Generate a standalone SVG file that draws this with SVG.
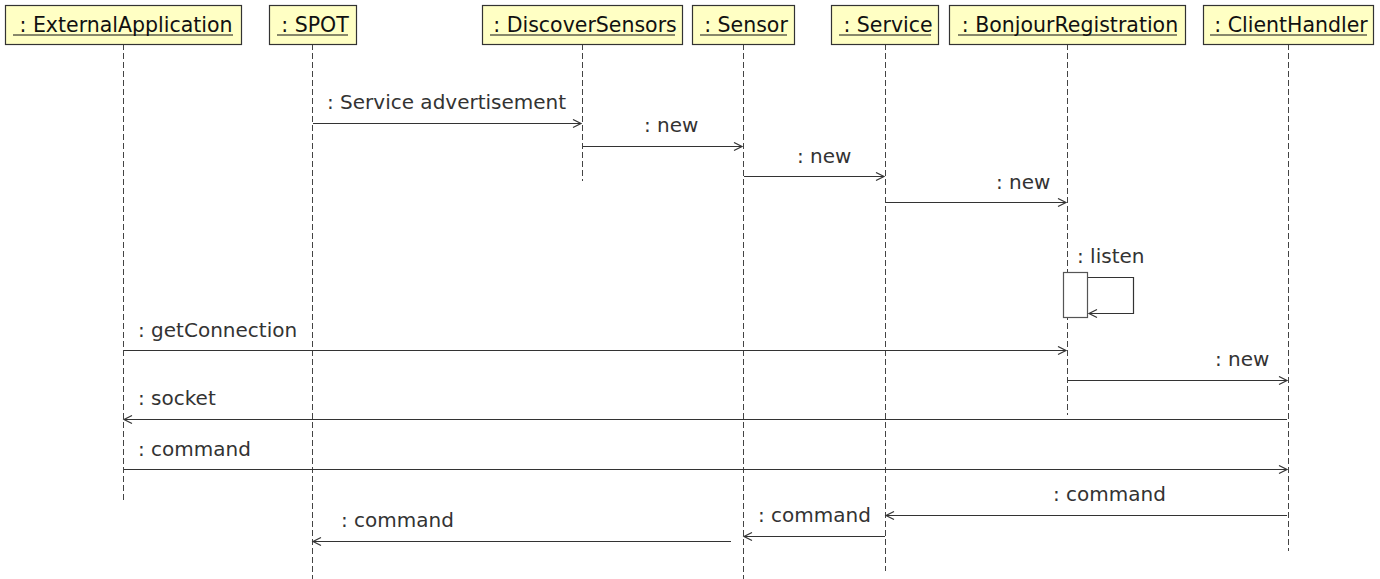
<svg xmlns="http://www.w3.org/2000/svg" width="1380" height="579" viewBox="0 0 1380 579">
<style>
.box{fill:#ffffc4;stroke:#333;stroke-width:1.2}
.hd{font-family:"DejaVu Sans",sans-serif;font-size:20.5px;fill:#111;text-anchor:middle}
.ul{stroke:#111;stroke-width:1}
.life{stroke:#444;stroke-width:1;stroke-dasharray:6,3;fill:none}
.msg{stroke:#333;stroke-width:1.2;fill:none;marker-end:url(#ah)}
.lbl{font-family:"DejaVu Sans",sans-serif;font-size:20px;fill:#333}
.act{fill:#fff;stroke:#555;stroke-width:1.2}
</style>
<defs>
<marker id="ah" markerUnits="userSpaceOnUse" markerWidth="12" markerHeight="12" refX="9" refY="5" orient="auto">
<path d="M1,1 L9,5 L1,9" fill="none" stroke="#333" stroke-width="1.2"/>
</marker>
</defs>
<rect width="1380" height="579" fill="#fff"/>
<g id="lifelines">
<line class="life" x1="123.5" y1="44" x2="123.5" y2="502"/>
<line class="life" x1="312.5" y1="44" x2="312.5" y2="579"/>
<line class="life" x1="582.5" y1="44" x2="582.5" y2="181"/>
<line class="life" x1="743.5" y1="44" x2="743.5" y2="579"/>
<line class="life" x1="885.5" y1="44" x2="885.5" y2="571"/>
<line class="life" x1="1067.5" y1="44" x2="1067.5" y2="415"/>
<line class="life" x1="1288.5" y1="44" x2="1288.5" y2="551"/>
</g>
<g id="n_ext">
<rect class="box" x="5.5" y="5.5" width="236" height="39"/>
<text class="hd" x="126" y="32">: ExternalApplication</text>
<line class="ul" x1="13" y1="35" x2="233" y2="35"/>
</g>
<g id="n_spot">
<rect class="box" x="269.5" y="5.5" width="87" height="39"/>
<text class="hd" x="315" y="32">: SPOT</text>
<line class="ul" x1="277" y1="35" x2="348" y2="35"/>
</g>
<g id="n_disc">
<rect class="box" x="482.5" y="5.5" width="200" height="39"/>
<text class="hd" x="585" y="32">: DiscoverSensors</text>
<line class="ul" x1="490" y1="35" x2="675" y2="35"/>
</g>
<g id="n_sensor">
<rect class="box" x="692.5" y="5.5" width="102" height="39"/>
<text class="hd" x="746" y="32">: Sensor</text>
<line class="ul" x1="700" y1="35" x2="787" y2="35"/>
</g>
<g id="n_service">
<rect class="box" x="831.5" y="5.5" width="107" height="39"/>
<text class="hd" x="888" y="32">: Service</text>
<line class="ul" x1="839" y1="35" x2="931" y2="35"/>
</g>
<g id="n_bonjour">
<rect class="box" x="949.5" y="5.5" width="236" height="39"/>
<text class="hd" x="1070" y="32">: BonjourRegistration</text>
<line class="ul" x1="958" y1="35" x2="1177" y2="35"/>
</g>
<g id="n_client">
<rect class="box" x="1203.5" y="5.5" width="170" height="39"/>
<text class="hd" x="1291" y="32">: ClientHandler</text>
<line class="ul" x1="1210" y1="35" x2="1367" y2="35"/>
</g>
<g id="n_act">
<rect class="act" x="1063.5" y="272.5" width="24" height="45"/>
</g>
<g id="connectors">
<line class="msg" x1="313" y1="123.5" x2="581" y2="123.5"/>
<line class="msg" x1="583" y1="146.5" x2="742" y2="146.5"/>
<line class="msg" x1="744" y1="176.5" x2="884" y2="176.5"/>
<line class="msg" x1="886" y1="202.5" x2="1066" y2="202.5"/>
<path class="msg" d="M1088,277.5 H1133.5 V313.5 H1089"/>
<line class="msg" x1="124" y1="350.5" x2="1066" y2="350.5"/>
<line class="msg" x1="1068" y1="380.5" x2="1287" y2="380.5"/>
<line class="msg" x1="1287" y1="419.5" x2="124" y2="419.5"/>
<line class="msg" x1="124" y1="469.5" x2="1287" y2="469.5"/>
<line class="msg" x1="1287" y1="515.5" x2="886" y2="515.5"/>
<line class="msg" x1="885" y1="536.5" x2="744" y2="536.5"/>
<line class="msg" x1="731" y1="541.5" x2="313" y2="541.5"/>
</g>
<g id="labels">
<text class="lbl" x="327" y="109">: Service advertisement</text>
<text class="lbl" x="644" y="132">: new</text>
<text class="lbl" x="797" y="163">: new</text>
<text class="lbl" x="996" y="189">: new</text>
<text class="lbl" x="1077" y="263">: listen</text>
<text class="lbl" x="138" y="337">: getConnection</text>
<text class="lbl" x="1215" y="366">: new</text>
<text class="lbl" x="138" y="405">: socket</text>
<text class="lbl" x="138" y="456">: command</text>
<text class="lbl" x="1053" y="501">: command</text>
<text class="lbl" x="758" y="522">: command</text>
<text class="lbl" x="341" y="527">: command</text>
</g>
</svg>
